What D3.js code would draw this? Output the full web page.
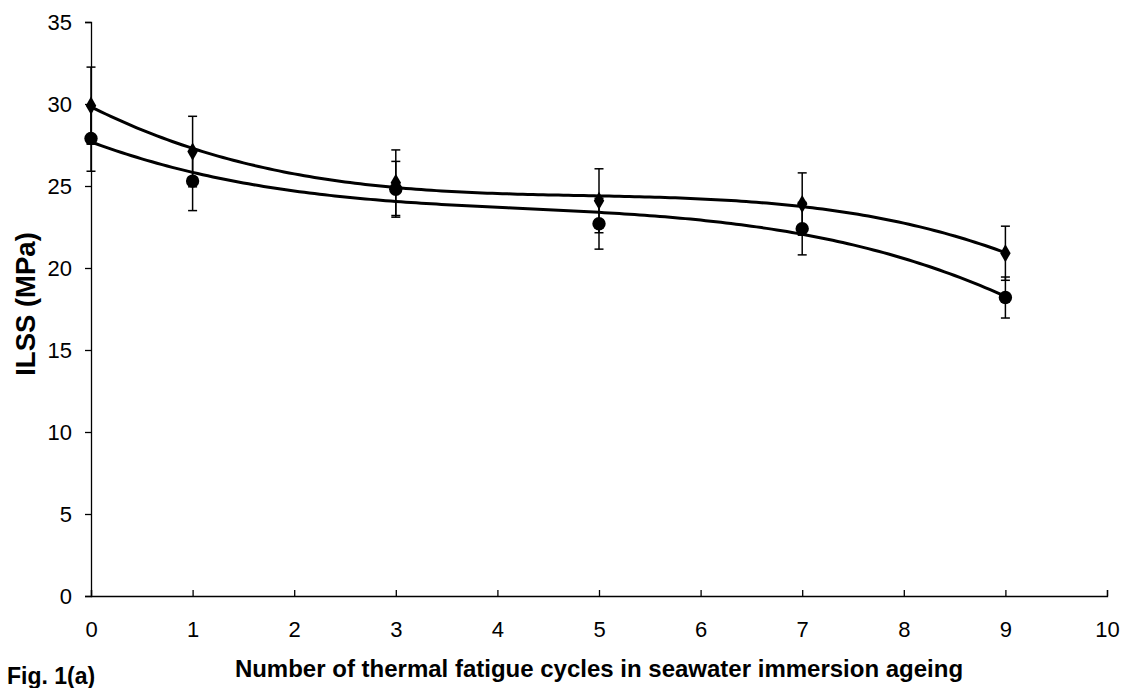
<!DOCTYPE html>
<html>
<head>
<meta charset="utf-8">
<script src="https://cdn.jsdelivr.net/npm/d3@7"></script>
<style>
body { margin: 0; background: #fff; }
svg { font-family: "Liberation Sans", Arial, sans-serif; }
</style>
</head>
<body>
<svg id="chart" width="1131" height="688"></svg>
<script>
// cycles
var cycles = [0, 1, 3, 5, 7, 9];
// series A (diamonds) and B (circles), with std deviations
var ilssA = [29.9, 27.1, 25.2, 24.1, 23.9, 20.9];
var errA  = [2.35, 2.15, 2.0, 1.95, 1.9, 1.65];
var ilssB = [27.9, 25.3, 24.8, 22.7, 22.4, 18.2];
var errB  = [2.0, 1.8, 1.7, 1.55, 1.6, 1.25];
var xTicks = d3.range(0, 11, 1);
var yTicks = d3.range(0, 36, 5);

var svg = d3.select("#chart");
var x = d3.scaleLinear().domain([0, 10]).range([91, 1107]);
var y = d3.scaleLinear().domain([0, 35]).range([596, 22]);

// cubic least squares fit (like the spreadsheet trendline)
function polyFit(xs, ys, deg) {
	var n = deg + 1, A = [], b = [];
	for (var i = 0; i < n; i++) {
		A.push([]);
		for (var j = 0; j < n; j++) A[i].push(d3.sum(xs, function(v) { return Math.pow(v, i + j); }));
		b.push(d3.sum(xs, function(v, k) { return ys[k] * Math.pow(v, i); }));
	}
	// gauss elimination
	for (var c = 0; c < n; c++) {
		for (var r = c + 1; r < n; r++) {
			var f = A[r][c] / A[c][c];
			for (var k = c; k < n; k++) A[r][k] -= f * A[c][k];
			b[r] -= f * b[c];
		}
	}
	var coef = new Array(n);
	for (var r = n - 1; r >= 0; r--) {
		var s = b[r];
		for (var k = r + 1; k < n; k++) s -= A[r][k] * coef[k];
		coef[r] = s / A[r][r];
	}
	return function(v) {
		var out = 0;
		for (var i = 0; i < n; i++) out += coef[i] * Math.pow(v, i);
		return out;
	};
}

// axes
var yAxis = svg.append("g").attr("transform", "translate(91,0)")
	.call(d3.axisLeft(y).tickValues(yTicks).tickSize(6).tickPadding(13));
var xAxis = svg.append("g").attr("transform", "translate(0,596)")
	.call(d3.axisBottom(x).tickValues(xTicks).tickSize(-6).tickPadding(25));
svg.selectAll(".domain").attr("stroke", "#000").attr("stroke-width", 1.3);
svg.selectAll(".tick line").attr("stroke", "#000").attr("stroke-width", 1.3);
svg.selectAll(".tick text").style("font-size", "22px").attr("fill", "#000")
	.style("font-family", "'Liberation Sans', Arial, sans-serif");
yAxis.selectAll(".tick text").attr("dy", "0.35em");

var series = [
	{ vals: ilssA, err: errA, shape: d3.symbolDiamond, size: 95 },
	{ vals: ilssB, err: errB, shape: d3.symbolCircle, size: 140 }
];

var line = d3.line().x(function(d) { return x(d[0]); }).y(function(d) { return y(d[1]); });

series.forEach(function(s) {
	var fit = polyFit(cycles, s.vals, 3);
	var pts = d3.range(0, 9.001, 0.05).map(function(v) { return [v, fit(v)]; });
	svg.append("path").attr("d", line(pts))
		.attr("fill", "none").attr("stroke", "#000").attr("stroke-width", 3);
});

series.forEach(function(s) {
	var g = svg.append("g");
	cycles.forEach(function(c, i) {
		var cx = x(c), y1 = y(s.vals[i] + s.err[i]), y2 = y(s.vals[i] - s.err[i]);
		g.append("line").attr("x1", cx).attr("x2", cx).attr("y1", y1).attr("y2", y2)
			.attr("stroke", "#000").attr("stroke-width", 1.5);
		[y1, y2].forEach(function(yy) {
			g.append("line").attr("x1", cx - 4.5).attr("x2", cx + 4.5).attr("y1", yy).attr("y2", yy)
				.attr("stroke", "#000").attr("stroke-width", 1.5);
		});
	});
});

series.forEach(function(s) {
	svg.append("g").selectAll("path").data(cycles).enter().append("path")
		.attr("transform", function(d, i) { return "translate(" + x(d) + "," + y(s.vals[i]) + ")"; })
		.attr("d", d3.symbol().type(s.shape).size(s.size))
		.attr("fill", "#000");
});

// labels
svg.append("text").attr("transform", "translate(35,304) rotate(-90)")
	.attr("text-anchor", "middle").style("font-size", "27.5px").attr("font-weight", "bold")
	.text("ILSS (MPa)");
svg.append("text").attr("x", 599).attr("y", 677)
	.attr("text-anchor", "middle").style("font-size", "24px").attr("font-weight", "bold")
	.text("Number of thermal fatigue cycles in seawater immersion ageing");
svg.append("text").attr("x", 7).attr("y", 684)
	.style("font-size", "23px").attr("font-weight", "bold")
	.text("Fig. 1(a)");
</script>
</body>
</html>
